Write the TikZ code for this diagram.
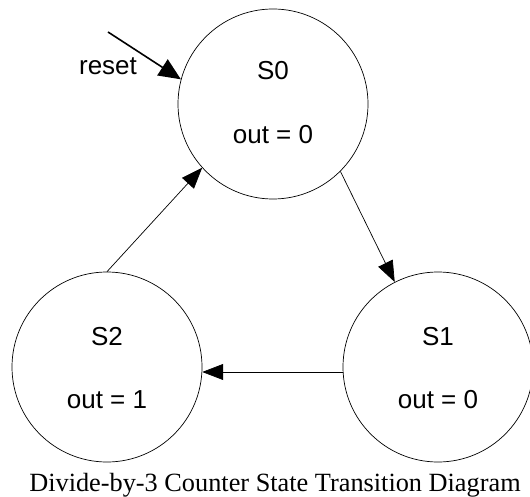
\documentclass[tikz,border=0pt]{standalone}
\usepackage{fontspec}
\setmainfont{Liberation Serif}
\setsansfont{Liberation Sans}
\usetikzlibrary{arrows.meta}
\begin{document}
\begin{tikzpicture}[x=1pt,y=-1pt,
  state/.style={circle,draw,line width=0.7pt,minimum size=190pt,inner sep=0pt},
  lbl/.style={font=\sffamily\fontsize{26}{30}\selectfont,inner sep=0pt,anchor=base},
  trans/.style={line width=0.7pt,-{Triangle[length=21pt,width=16pt]}},
  resetarrow/.style={line width=1.6pt,-{Triangle[length=22pt,width=19pt]}}]
\useasboundingbox (0,0) rectangle (530,497);
\node[state] (S0) at (273,104) {};
\node[state] (S1) at (438,367) {};
\node[state] (S2) at (107,367) {};
\node[lbl] (S0a) at (273,80) {S0};
\node[lbl] (S0b) at (273,144) {out = 0};
\node[lbl] (S1a) at (438,345) {S1};
\node[lbl] (S1b) at (438,408) {out = 0};
\node[lbl] (S2a) at (107,345) {S2};
\node[lbl] (S2b) at (107,408) {out = 1};
\node[lbl] (rst) at (108,75) {reset};
\coordinate (rs) at (108,32);
\draw[resetarrow] (rs) -- (S0.165);
\draw[trans] (S0.-45) -- (S1.117);
\draw[trans] (S1.183) -- (S2.-3);
\draw[trans] (S2.90) -- (S0.222);
\node[font=\rmfamily\fontsize{26.3}{30}\selectfont,inner sep=0pt,anchor=base] (cap) at (275,491) {Divide-by-3 Counter State Transition Diagram};
\end{tikzpicture}
\end{document}
